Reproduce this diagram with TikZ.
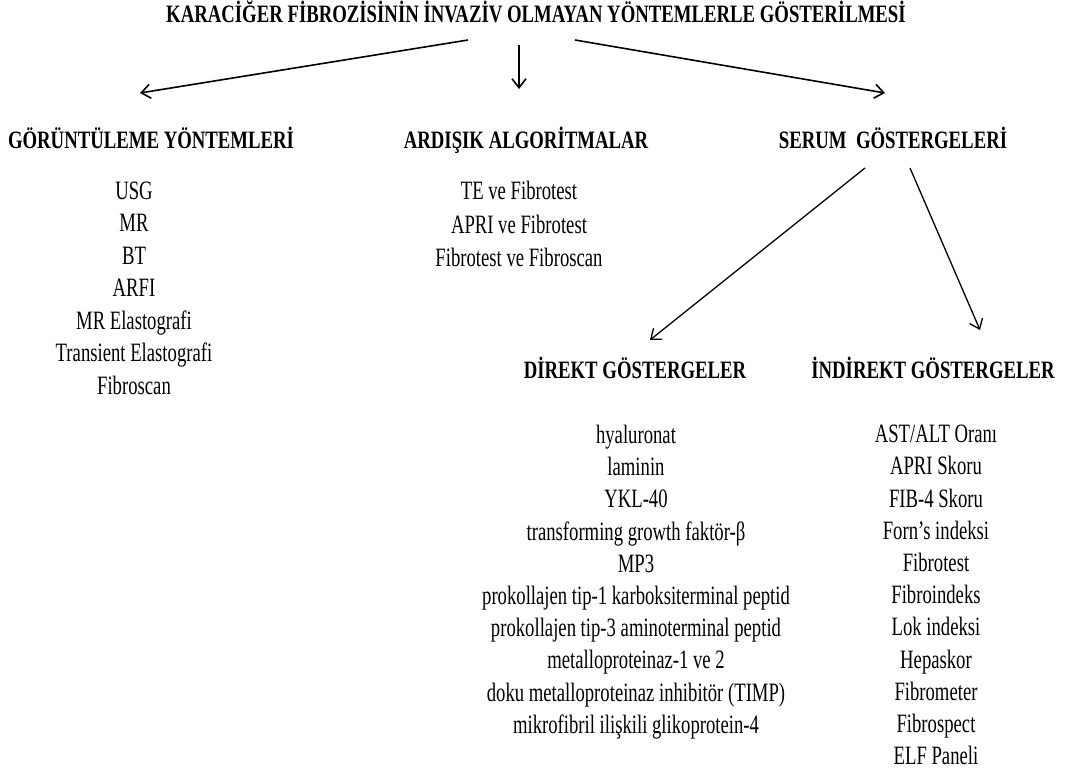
\documentclass[tikz,border=0pt]{standalone}
\usepackage{fontspec}
\setmainfont{Liberation Serif}[FakeStretch=0.705,BoldFeatures={FakeStretch=0.75}]
\usetikzlibrary{arrows.meta}

\begin{document}
\begin{tikzpicture}[x={(1pt,0)},y={(0,-1pt)},
    baslik/.style={font=\fontsize{25}{30}\selectfont\bfseries, inner sep=0pt, anchor=base},
    liste/.style={font=\fontsize{26.5}{#1}\selectfont, align=center, inner sep=0pt, anchor=north},
    ok/.style={line width=1.6pt, -{Straight Barb[length=9pt,width=14pt]}},
    ince/.style={line width=1.3pt, -{Straight Barb[length=9pt,width=14pt]}}]
        \useasboundingbox (0,0) rectangle (1065,773);

        % basliklar
        \node[baslik](title) at (536,23){KARACİĞER FİBROZİSİNİN İNVAZİV OLMAYAN YÖNTEMLERLE GÖSTERİLMESİ};
        \node[baslik](goruntu) at (151,148){GÖRÜNTÜLEME YÖNTEMLERİ};
        \node[baslik](ardisik) at (526,148){ARDIŞIK ALGORİTMALAR};
        \node[baslik](serum) at (893,148){SERUM\ \ GÖSTERGELERİ};
        \node[baslik](direkt) at (635,378){DİREKT GÖSTERGELER};
        \node[baslik](indirekt) at (933,378){İNDİREKT GÖSTERGELER};

        % listeler
        \node[liste=32.5](Lgoruntu) at (134,181.5){USG\\MR\\BT\\ARFI\\MR Elastografi\\Transient Elastografi\\Fibroscan};
        \node[liste=33.5](Lardisik) at (519,181){TE ve Fibrotest\\APRI ve Fibrotest\\Fibrotest ve Fibroscan};
        \node[liste=32.2](Ldirekt) at (636,425){hyaluronat\\laminin\\YKL-40\\transforming growth faktör-β\\MP3\\prokollajen tip-1 karboksiterminal peptid\\prokollajen tip-3 aminoterminal peptid\\metalloproteinaz-1 ve 2\\doku metalloproteinaz inhibitör (TIMP)\\mikrofibril ilişkili glikoprotein-4};
        \node[liste=32.2](Lindirekt) at (936,425){AST/ALT Oranı\\APRI Skoru\\FIB-4 Skoru\\Forn’s indeksi\\Fibrotest\\Fibroindeks\\Lok indeksi\\Hepaskor\\Fibrometer\\Fibrospect\\ELF Paneli};

        \coordinate (t1) at (468,40);
        \coordinate (t2) at (519,45);
        \coordinate (t3) at (575,40);
        \coordinate (s1) at (865,168);
        \coordinate (s2) at (910,168);

        \draw[ok] (t1) -- (140,93);
        \draw[ok] (t2) -- (519,89);
        \draw[ok] (t3) -- (885,93);
        \draw[ince] (s1) -- (650,340);
        \draw[ince] (s2) -- (980,330);

      \end{tikzpicture}
\end{document}
